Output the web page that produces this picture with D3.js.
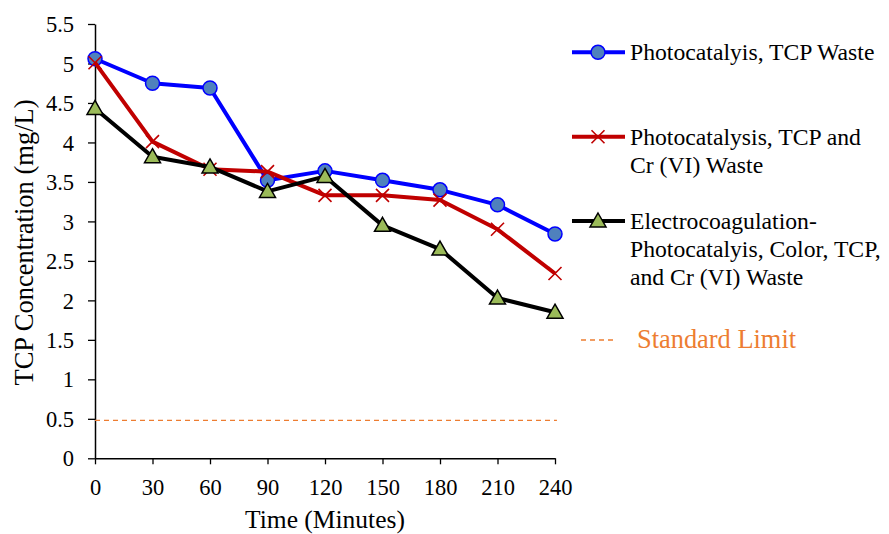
<!DOCTYPE html>
<html>
<head>
<meta charset="utf-8">
<script src="https://cdn.jsdelivr.net/npm/d3@7/dist/d3.min.js"></script>
<style>
  html, body { margin: 0; padding: 0; background: #fff; }
  svg text { font-family: "Liberation Serif", "Times New Roman", serif; }
</style>
</head>
<body>
<svg id="chart" width="889" height="534"></svg>
<script>
// Sampling times (minutes)
const times = [0, 30, 60, 90, 120, 150, 180, 210, 240];
// TCP concentration (mg/L) for each treatment
const photoTCP = [5.06, 4.75, 4.69, 3.52, 3.64, 3.52, 3.40, 3.21, 2.84];
const photoTCPCr = [5.01, 4.01, 3.66, 3.63, 3.33, 3.33, 3.27, 2.90, 2.34];
const ecPhoto = [4.43, 3.82, 3.69, 3.38, 3.57, 2.95, 2.65, 2.03, 1.85];
const standardLimit = 0.48;
// Axis ticks
const xTicks = [0, 30, 60, 90, 120, 150, 180, 210, 240];
const yTicks = [0, 0.5, 1, 1.5, 2, 2.5, 3, 3.5, 4, 4.5, 5, 5.5];

const series = [
  { name: ["Photocatalyis, TCP Waste"], values: photoTCP, color: "#0000FF", marker: "circle", legendY: 52.3 },
  { name: ["Photocatalysis, TCP and", "Cr (VI) Waste"], values: photoTCPCr, color: "#C00000", marker: "cross", legendY: 136.7 },
  { name: ["Electrocoagulation-", "Photocatalyis, Color, TCP,", "and Cr (VI) Waste"], values: ecPhoto, color: "#000000", marker: "triangle", legendY: 221 }
];

const FONT = "'Liberation Serif', 'Times New Roman', serif";
const svg = d3.select("#chart");
const x = d3.scaleLinear().domain([0, 240]).range([95, 555]);
const y = d3.scaleLinear().domain([0, 5.5]).range([458.3, 24]);

// Axes
const xAxis = d3.axisBottom(x).tickValues(xTicks).tickSize(6).tickSizeOuter(0).tickFormat(d3.format("d"));
const yAxis = d3.axisLeft(y).tickValues(yTicks).tickSize(7).tickSizeOuter(0).tickFormat(d => String(d));

const gx = svg.append("g").attr("transform", `translate(0,${y(0)})`).call(xAxis);
const gy = svg.append("g").attr("transform", `translate(${x(0)},0)`).call(yAxis);
[gx, gy].forEach(g => {
  g.attr("font-family", FONT).attr("font-size", 22.5);
  g.select(".domain").attr("stroke", "#000").attr("stroke-width", 1.5);
  g.selectAll(".tick line").attr("stroke", "#000").attr("stroke-width", 1.3);
  g.selectAll(".tick text").attr("fill", "#000");
});
gx.selectAll(".tick text").attr("y", 36.7).attr("dy", 0);
gy.selectAll(".tick text").attr("x", -21).attr("dy", "0.34em");

// Axis titles
svg.append("text").attr("x", 325).attr("y", 528).attr("text-anchor", "middle")
  .attr("font-family", FONT).attr("font-size", 25.5).text("Time (Minutes)");
svg.append("text").attr("transform", "translate(33,242.5) rotate(-90)").attr("text-anchor", "middle")
  .attr("font-family", FONT).attr("font-size", 26.5).text("TCP Concentration (mg/L)");

// Standard limit line
svg.append("line")
  .attr("x1", x(0)).attr("x2", x(241)).attr("y1", y(standardLimit)).attr("y2", y(standardLimit))
  .attr("stroke", "#ED7D31").attr("stroke-width", 1.3).attr("stroke-dasharray", "5,4");

const line = d3.line().x((d, i) => x(times[i])).y(d => y(d));

function drawMarker(g, type, cx, cy) {
  if (type === "circle") {
    g.append("circle").attr("cx", cx).attr("cy", cy).attr("r", 7)
      .attr("fill", "#4F81BD").attr("stroke", "#0000FF").attr("stroke-width", 1.5);
  } else if (type === "cross") {
    const s = 6.5;
    g.append("path").attr("d", `M${cx - s},${cy - s}L${cx + s},${cy + s}M${cx - s},${cy + s}L${cx + s},${cy - s}`)
      .attr("stroke", "#C00000").attr("stroke-width", 1.6).attr("fill", "none");
  } else {
    const s = 8;
    g.append("path").attr("d", `M${cx},${cy - s}L${cx + s},${cy + s * 0.75}L${cx - s},${cy + s * 0.75}Z`)
      .attr("fill", "#9BBB59").attr("stroke", "#000").attr("stroke-width", 1.5);
  }
}

series.forEach(s => {
  const g = svg.append("g");
  g.append("path").datum(s.values).attr("d", line)
    .attr("fill", "none").attr("stroke", s.color).attr("stroke-width", 4).attr("stroke-linejoin", "round");
  s.values.forEach((v, i) => drawMarker(g, s.marker, x(times[i]), y(v)));

  // Legend entry
  const lg = svg.append("g");
  lg.append("line").attr("x1", 572).attr("x2", 625).attr("y1", s.legendY).attr("y2", s.legendY)
    .attr("stroke", s.color).attr("stroke-width", 4);
  drawMarker(lg, s.marker, 598, s.legendY);
  const t = lg.append("text").attr("x", 630).attr("y", s.legendY + 8)
    .attr("font-family", FONT).attr("font-size", 23.7);
  s.name.forEach((ln, i) => t.append("tspan").attr("x", 630).attr("dy", i === 0 ? 0 : 28.2).text(ln));
});

// Standard limit legend entry
svg.append("line").attr("x1", 581).attr("x2", 616).attr("y1", 340).attr("y2", 340)
  .attr("stroke", "#ED7D31").attr("stroke-width", 1.3).attr("stroke-dasharray", "5,4");
svg.append("text").attr("x", 637).attr("y", 348).attr("font-family", FONT).attr("font-size", 26.4)
  .attr("fill", "#ED7D31").text("Standard Limit");
</script>
</body>
</html>
